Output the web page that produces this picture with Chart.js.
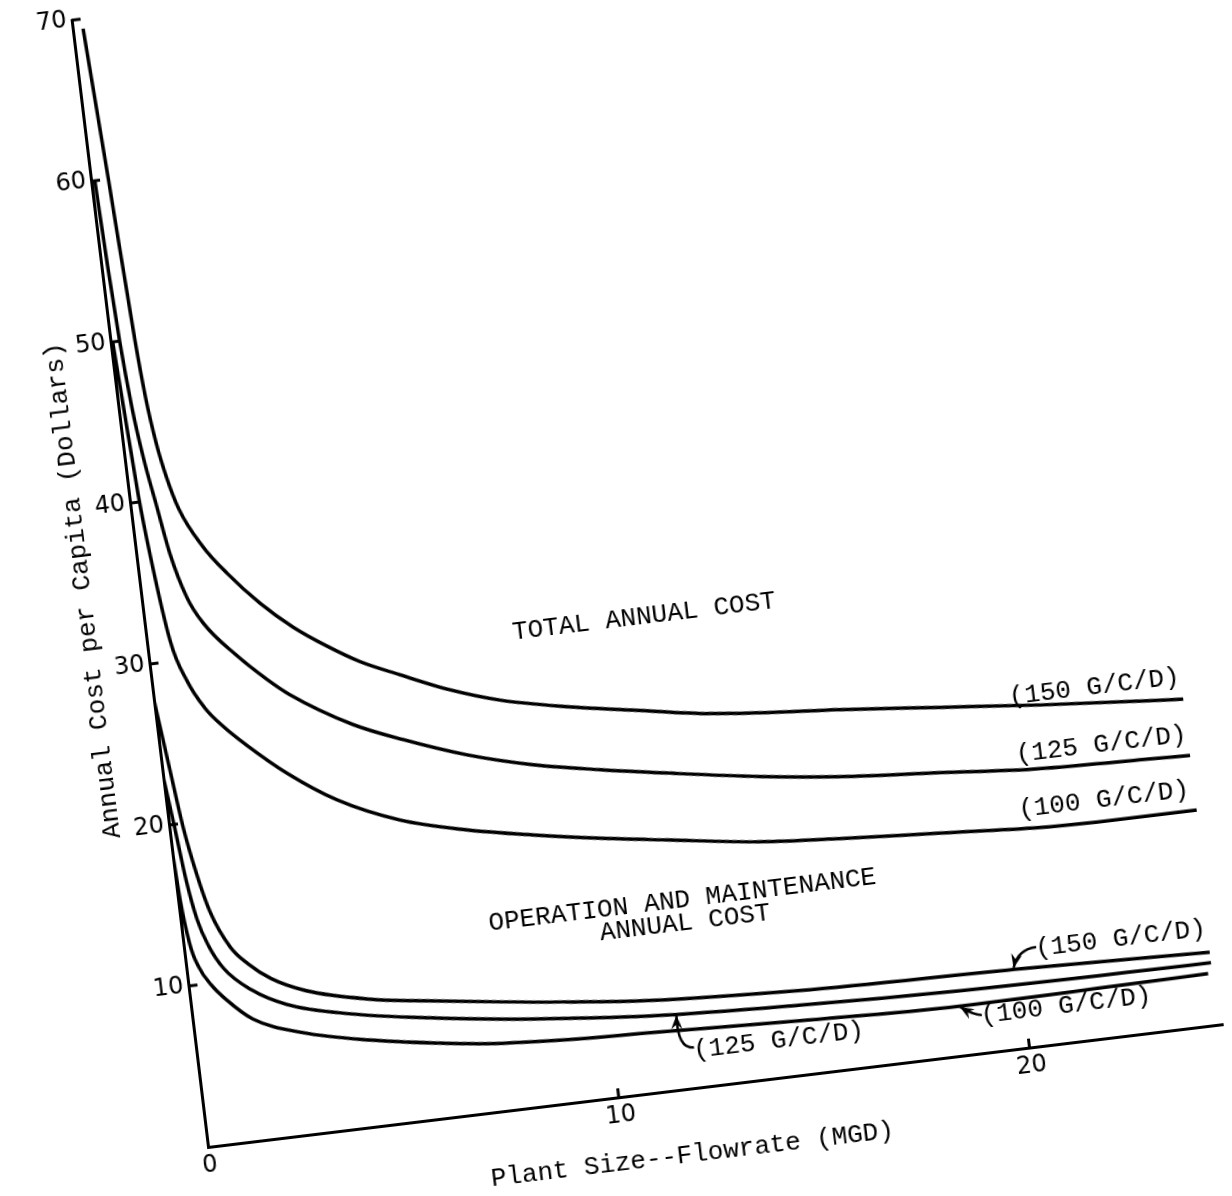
<!DOCTYPE html>
<html>
<head>
<meta charset="utf-8">
<title>Annual Cost per Capita vs Plant Size</title>
<script src="https://cdn.jsdelivr.net/npm/chart.js@4.4.1/dist/chart.umd.min.js"></script>
<style>
  html, body { margin: 0; padding: 0; background: #fff; }
  body { width: 1232px; height: 1196px; overflow: hidden; position: relative; }
  #out { position: absolute; left: 0; top: 0; }
</style>
</head>
<body>
<canvas id="out" width="1142" height="1255"></canvas>
<script>
// values: plant size (MGD) -> annual cost per capita ($)
const total150X = [0.25, 0.42, 0.59, 0.68, 0.8, 0.95, 1.15, 1.62, 2.12, 2.83, 3.55, 4.3, 5.05, 5.97, 7.13, 8.3, 9.89, 11.46, 13.06, 14.5, 16.43, 18.83, 21.24, 23.64, 24.7];
const total150Y = [69.4, 60.0, 49.9, 46.3, 43.5, 41.3, 39.3, 36.8, 35.0, 32.9, 31.2, 29.8, 28.6, 27.5, 26.2, 25.2, 24.3, 23.6, 22.9, 22.5, 22.1, 21.5, 20.9, 20.4, 20.2];

const total125X = [0.09, 0.15, 0.22, 0.32, 0.45, 0.63, 0.81, 1.09, 1.41, 2.11, 2.77, 3.27, 4.7, 5.86, 7.34, 8.9, 10.5, 12.09, 14.31, 16.23, 18.64, 21.05, 23.47, 24.7];
const total125Y = [60, 54.6, 50.0, 45.9, 42.7, 39.6, 36.6, 33.8, 32.1, 29.9, 28.2, 27.1, 24.8, 23.5, 22.1, 21.0, 20.2, 19.5, 18.6, 18.0, 17.5, 17.0, 16.8, 16.7];

const total100X = [0.05, 0.12, 0.22, 0.34, 0.56, 0.85, 1.2, 1.6, 2.1, 2.98, 4.1, 5.55, 7.13, 8.7, 10.3, 11.9, 14.12, 16.05, 18.46, 20.88, 23.31, 24.7];
const total100Y = [50, 46.0, 40.4, 36.4, 31.3, 28.7, 26.9, 25.6, 24.3, 22.3, 20.3, 18.6, 17.5, 16.7, 16.0, 15.4, 14.6, 14.2, 13.8, 13.4, 13.3, 13.3];

const om150X = [0, 0.18, 0.33, 0.52, 0.73, 1.11, 1.5, 2.0, 2.8, 4.32, 5.6, 7.5, 9.1, 11.0, 14.65, 19.87, 24.6];
const om150Y = [27.8, 23.4, 19.8, 16.8, 14.4, 12.1, 10.9, 9.85, 8.85, 7.85, 7.35, 6.7, 6.2, 5.7, 5.2, 4.9, 4.5];

const om125X = [0, 0.12, 0.25, 0.4, 0.6, 0.9, 1.5, 2.3, 3.8, 5.87, 7.45, 9.06, 10.98, 14.6, 18.5, 24.6];
const om125Y = [23, 20.0, 16.5, 14.0, 12.3, 10.8, 9.3, 8.15, 7.1, 6.2, 5.65, 5.2, 4.75, 4.3, 4.0, 3.85];

const om100X = [0, 0.05, 0.15, 0.3, 0.55, 0.88, 1.45, 2.61, 4.2, 5.79, 7.0, 9.0, 11.0, 14.56, 18.44, 24.5];
const om100Y = [18.4, 15.3, 12.6, 11.1, 9.9, 8.85, 7.5, 6.3, 5.35, 4.67, 4.25, 3.9, 3.72, 3.35, 3.05, 3.2];

const seriesNames = ["Total 150 G/C/D", "Total 125 G/C/D", "Total 100 G/C/D", "O&M 150 G/C/D", "O&M 125 G/C/D", "O&M 100 G/C/D"];
const seriesX = [total150X, total125X, total100X, om150X, om125X, om100X];
const seriesY = [total150Y, total125Y, total100Y, om150Y, om125Y, om100Y];

const xTickValues = [0, 10, 20];
const yTickValues = [10, 20, 30, 40, 50, 60, 70];

const xTitle = "Plant Size--Flowrate (MGD)";
const yTitle = "Annual Cost per Capita (Dollars)";

// text written on the plot (data coordinates)
const notes = [
  { text: "TOTAL ANNUAL COST", x: 12.0, y: 29.2 },
  { text: "OPERATION AND MAINTENANCE", x: 12.1, y: 11.6 },
  { text: "ANNUAL COST", x: 12.1, y: 10.2 },
  { text: "(150 G/C/D)", x: 22.6, y: 21.6 },
  { text: "(125 G/C/D)", x: 22.6, y: 18.0 },
  { text: "(100 G/C/D)", x: 22.5, y: 14.6 },
  { text: "(150 G/C/D)", x: 22.5, y: 6.0 },
  { text: "(100 G/C/D)", x: 21.0, y: 2.3 },
  { text: "(125 G/C/D)", x: 14.0, y: 2.3 }
];

const arrows = [
  { from: [20.45, 6.1], via: [20.0, 6.1], to: [19.85, 5.0] },
  { from: [18.95, 2.35], via: [18.75, 2.4], to: [18.45, 3.0] },
  { from: [11.95, 2.5], via: [11.55, 2.5], to: [11.62, 4.6] }
];

const toPoints = (xs, ys) => xs.map((x, i) => ({ x: x, y: ys[i] }));

const typeFont = "'Liberation Mono', 'DejaVu Sans Mono', monospace";

const notesPlugin = {
  id: "notes",
  afterDraw(chart) {
    const ctx = chart.ctx;
    const xs = chart.scales.x;
    const ys = chart.scales.y;
    const x0 = xs.getPixelForValue(0);
    const y0 = ys.getPixelForValue(0);
    const px = p => [xs.getPixelForValue(p[0]), ys.getPixelForValue(p[1])];

    ctx.save();
    ctx.strokeStyle = "#000";
    ctx.fillStyle = "#000";
    ctx.lineWidth = 3;

    // tick marks point into the plot
    yTickValues.forEach(v => {
      const py = ys.getPixelForValue(v);
      ctx.beginPath();
      ctx.moveTo(x0, py);
      ctx.lineTo(x0 + 9, py);
      ctx.stroke();
    });
    xTickValues.filter(v => v > 0).forEach(v => {
      const pxv = xs.getPixelForValue(v);
      ctx.beginPath();
      ctx.moveTo(pxv, y0);
      ctx.lineTo(pxv, y0 - 9);
      ctx.stroke();
    });

    ctx.font = "26px " + typeFont;
    ctx.textAlign = "center";
    ctx.textBaseline = "middle";
    notes.forEach(n => {
      ctx.fillText(n.text, xs.getPixelForValue(n.x), ys.getPixelForValue(n.y));
    });

    // x axis title sits a little left of the axis centre
    ctx.fillText(xTitle, xs.getPixelForValue(11.6), y0 + 66);

    ctx.lineWidth = 2.5;
    arrows.forEach(a => {
      const f = px(a.from), c = px(a.via), t = px(a.to);
      ctx.beginPath();
      ctx.moveTo(f[0], f[1]);
      ctx.quadraticCurveTo(c[0], c[1], t[0], t[1]);
      ctx.stroke();
      const ang = Math.atan2(t[1] - c[1], t[0] - c[0]);
      const len = 15;
      ctx.beginPath();
      ctx.moveTo(t[0], t[1]);
      ctx.lineTo(t[0] - len * Math.cos(ang - 0.38), t[1] - len * Math.sin(ang - 0.38));
      ctx.lineTo(t[0] - len * 0.6 * Math.cos(ang), t[1] - len * 0.6 * Math.sin(ang));
      ctx.lineTo(t[0] - len * Math.cos(ang + 0.38), t[1] - len * Math.sin(ang + 0.38));
      ctx.closePath();
      ctx.fill();
    });
    ctx.restore();
  }
};

const canvas = document.getElementById("out");
const chart = new Chart(canvas.getContext("2d"), {
  type: "line",
  data: {
    datasets: seriesNames.map((name, i) => ({
      label: name,
      data: toPoints(seriesX[i], seriesY[i]),
      borderColor: "#000",
      borderWidth: 3.5,
      pointRadius: 0,
      fill: false,
      cubicInterpolationMode: "monotone"
    }))
  },
  options: {
    responsive: false,
    animation: false,
    layout: { padding: { left: 20, top: 20, right: 20, bottom: 10 } },
    plugins: { legend: { display: false }, tooltip: { enabled: false } },
    scales: {
      x: {
        type: "linear",
        min: 0,
        max: 24.7,
        afterFit: scale => { scale.height = 90; },
        grid: { display: false, drawTicks: false },
        border: { display: true, color: "#000", width: 3 },
        ticks: {
          stepSize: 10,
          includeBounds: false,
          autoSkip: false,
          maxRotation: 0,
          padding: 4,
          color: "#000",
          font: { family: "'DejaVu Sans', sans-serif", size: 24 }
        },
        title: { display: false, text: xTitle }
      },
      y: {
        type: "linear",
        min: 0,
        max: 70,
        afterFit: scale => { scale.width = 80; },
        grid: { display: false, drawTicks: false },
        border: { display: true, color: "#000", width: 3 },
        ticks: {
          stepSize: 10,
          padding: 5,
          color: "#000",
          font: { family: "'DejaVu Sans', sans-serif", size: 24 },
          callback: v => (v === 0 ? "" : v)
        },
        title: {
          display: true,
          text: yTitle,
          color: "#000",
          font: { family: typeFont, size: 26 },
          padding: { top: 8, bottom: 0 }
        }
      }
    }
  },
  plugins: [notesPlugin]
});

// the scanned page sits tilted, so the whole drawing is turned about the origin
const area = chart.chartArea;
canvas.style.left = (208 - area.left) + "px";
canvas.style.top = (1147 - area.bottom) + "px";
canvas.style.transformOrigin = area.left + "px " + area.bottom + "px";
canvas.style.transform = "rotate(-6.9deg)";
</script>
</body>
</html>
